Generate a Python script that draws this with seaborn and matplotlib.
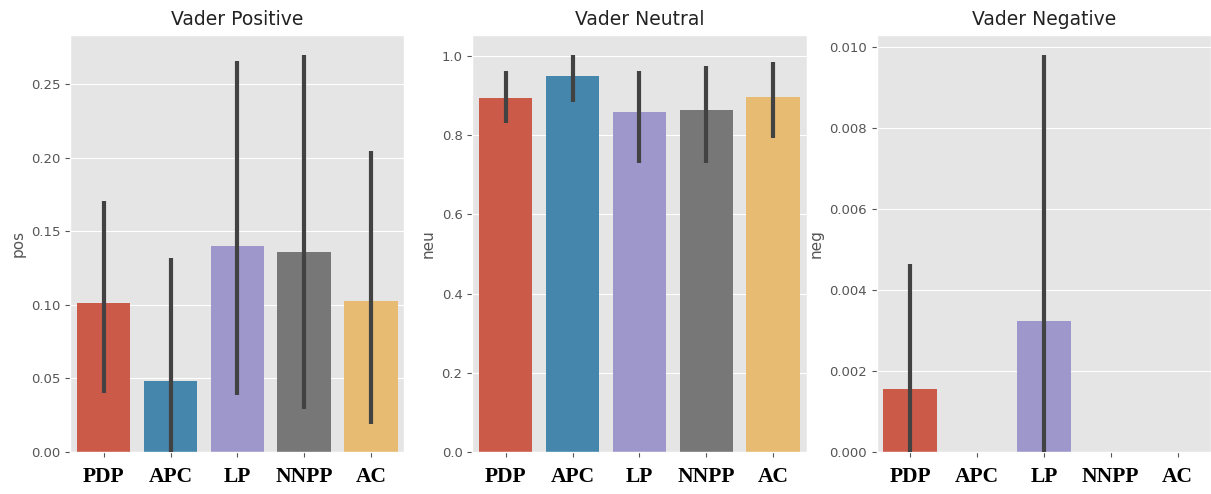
import numpy as np
import pandas as pd
import matplotlib
matplotlib.use("Agg")
import matplotlib.pyplot as plt
import seaborn as sns

categories = ["PDP", "APC", "LP", "NNPP", "AC"]
colors = ["#E24A33", "#348ABD", "#988ED5", "#777777", "#FBC15E"]

pos_mean = [0.101, 0.048, 0.140, 0.136, 0.103]
pos_lo = [0.040, 0.000, 0.039, 0.029, 0.019]
pos_hi = [0.171, 0.132, 0.266, 0.270, 0.205]

neu_mean = [0.895, 0.950, 0.858, 0.864, 0.897]
neu_lo = [0.830, 0.884, 0.731, 0.731, 0.792]
neu_hi = [0.962, 1.003, 0.962, 0.974, 0.985]

neg_mean = [0.00155, 0.0, 0.00324, 0.0, 0.0]
neg_lo = [0.0, 0.0, 0.0, 0.0, 0.0]
neg_hi = [0.00465, 0.0, 0.00981, 0.0, 0.0]

titles = ["Vader Positive", "Vader Neutral", "Vader Negative"]
ylabels = ["pos", "neu", "neg"]

plt.style.use("ggplot")
fig = plt.figure(figsize=(12.11, 4.94), dpi=100)
lefts = [0.058, 0.390, 0.724]
width = 0.276
axes = [fig.add_axes([l, 0.085, width, 0.844]) for l in lefts]

panels = [(pos_mean, pos_lo, pos_hi), (neu_mean, neu_lo, neu_hi), (neg_mean, neg_lo, neg_hi)]

for ax, (m, lo, hi), title, yl in zip(axes, panels, titles, ylabels):
    df = pd.DataFrame({"cat": categories, "val": m})
    sns.barplot(data=df, x="cat", y="val", hue="cat", palette=colors,
                errorbar=None, legend=False, ax=ax, width=0.8, saturation=0.75)
    xs = np.arange(len(categories))
    mask = np.array(hi) > np.array(lo)
    ax.vlines(xs[mask], np.array(lo)[mask], np.array(hi)[mask],
              color="#424242", linewidth=3.0, zorder=3)
    ax.set_title(title, fontsize=13.5, color="#222222", pad=7)
    ax.set_ylabel(yl, fontsize=11, color="#555555")
    ax.set_xlabel("")
    ax.set_xticks(xs)
    ax.set_xticklabels(categories, fontfamily="Liberation Serif",
                       fontweight="bold", fontsize=15.5, color="black")
    ax.tick_params(axis="x", pad=7)
    ax.tick_params(axis="y", labelsize=9.5, labelcolor="#555555")
    ax.set_xlim(-0.5, 4.5)
    top = max(hi) * 1.05
    ax.set_ylim(0, top)

axes[0].set_yticks([0.0, 0.05, 0.10, 0.15, 0.20, 0.25])
axes[0].set_yticklabels(["0.00", "0.05", "0.10", "0.15", "0.20", "0.25"])
axes[1].set_yticks([0.0, 0.2, 0.4, 0.6, 0.8, 1.0])
axes[2].set_yticks([0.0, 0.002, 0.004, 0.006, 0.008, 0.010])
axes[2].set_yticklabels(["0.000", "0.002", "0.004", "0.006", "0.008", "0.010"])

fig.savefig("out.png", dpi=100)
